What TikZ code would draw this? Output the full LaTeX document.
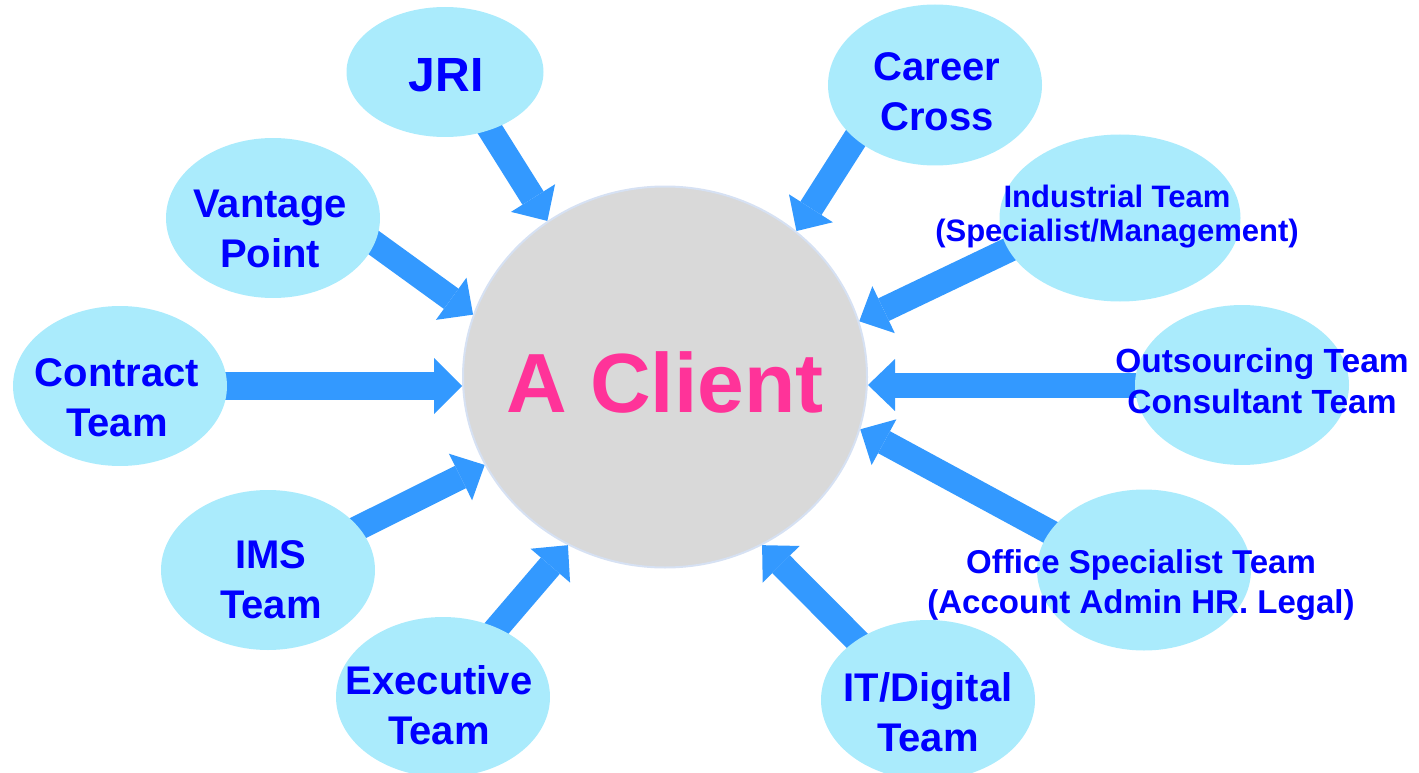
\documentclass[tikz,border=0pt]{standalone}
\usepackage{fontspec}
\setmainfont{Liberation Sans}
\usetikzlibrary{arrows.meta,shapes.geometric,backgrounds}

\definecolor{bubblefill}{RGB}{170,235,252}
\definecolor{arrowblue}{RGB}{51,153,255}
\definecolor{labelblue}{RGB}{0,0,255}
\definecolor{clientpink}{RGB}{255,51,153}
\definecolor{clientgrey}{RGB}{217,217,217}
\definecolor{clientrim}{RGB}{214,225,243}

\begin{document}
\begin{tikzpicture}[x=1pt,y=-1pt,
  bubble/.style={ellipse, fill=bubblefill, inner sep=0pt,
                 minimum width=214pt, minimum height=160pt},
  caption/.style={text=labelblue, align=center, inner sep=0pt,
                  font=\bfseries\fontsize{40}{50}\selectfont},
  smallcaption/.style={caption, font=\bfseries\fontsize{33.5}{41}\selectfont},
  push/.style={draw=arrowblue, line width=25pt, shorten <=-14pt,
               -{Triangle[length=27pt,width=52pt,line width=0pt]}},
  widepush/.style={push, line width=28pt,
               -{Triangle[length=28pt,width=56pt,line width=0pt]}},
]
\clip (0,0) rectangle (1419,773);

% central client
\node[ellipse, fill=clientgrey, draw=clientrim, line width=2pt, inner sep=0pt,
      minimum width=404pt, minimum height=381pt] (client) at (665,377) {};
\node[text=clientpink, inner sep=0pt,
      font=\bfseries\fontsize{84}{100}\selectfont] (clientname) at (665,382) {A Client};

% surrounding sources
\node[bubble, minimum width=197pt, minimum height=130pt] (jri) at (445,72) {};
\node[bubble, minimum height=161pt] (career) at (935,85) {};
\node[bubble] (vantage) at (273,218) {};
\node[bubble, minimum width=241pt, minimum height=167pt] (industrial) at (1120,218) {};
\node[bubble] (contract) at (120,386) {};
\node[bubble] (outsourcing) at (1242,385) {};
\node[bubble] (ims) at (268,570) {};
\node[bubble, minimum height=161pt] (office) at (1144,570) {};
\node[bubble] (executive) at (443,697) {};
\node[bubble] (itdigital) at (928,700) {};

% captions
\node[caption, font=\bfseries\fontsize{48}{56}\selectfont] (jritext) at (446,75) {JRI};
\node[caption] (careertext) at (937,92) {Career\\Cross};
\node[caption] (vantagetext) at (270,228.5) {Vantage\\Point};
\node[caption, font=\bfseries\fontsize{31}{34}\selectfont] (industrialtext) at (1117,216.7)
  {Industrial Team\\(Specialist/Management)};
\node[caption] (contracttext) at (117,397.5) {Contract\\Team};
\node[smallcaption] (outsourcingtext) at (1262,381) {Outsourcing Team\\Consultant Team};
\node[caption] (imstext) at (271,579.5) {IMS\\Team};
\node[smallcaption, font=\bfseries\fontsize{33}{40}\selectfont] (officetext) at (1141,585)
  {Office Specialist Team\\(Account Admin HR. Legal)};
\node[caption] (executivetext) at (439,705) {Executive\\Team};
\node[caption] (itdigitaltext) at (928,712) {IT/Digital\\Team};

% block arrows pointing at the client
\begin{scope}[on background layer]
  \draw[push] (jri.-52.5) -- (client.127.5);
  \draw[push] (career.214) -- (client.48.5);
  \draw[push] (vantage.-14.8) -- (client.162.6);
  \draw[push] (industrial.196.9) -- (client.16.4);
  \draw[widepush] (contract.east) -- (contract.east -| client.west);
  \draw[push] (outsourcing.west) -- (outsourcing.west -| client.east);
  \draw[push] (ims.25.5) -- (client.206.2);
  \draw[push] (office.158.7) -- (client.-15);
  \draw[push] (executive.52) -- (client.240.5);
  \draw[push] (itdigital.140.6) -- (client.-60.7);
\end{scope}
\end{tikzpicture}
\end{document}
